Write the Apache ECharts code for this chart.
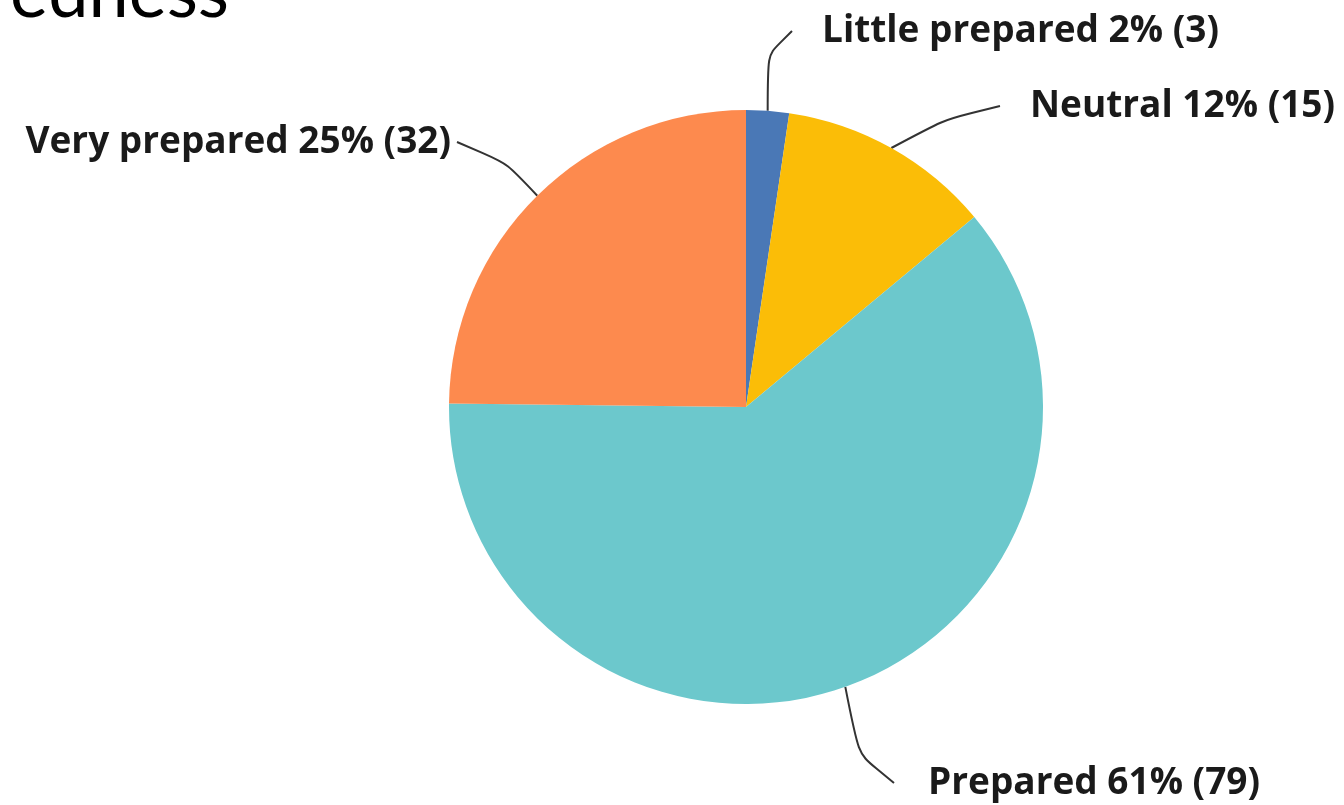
<!DOCTYPE html>
<html><head><meta charset="utf-8">
<script src="https://cdn.jsdelivr.net/npm/echarts@6/dist/echarts.min.js"></script>
<style>html,body{margin:0;padding:0;background:#fff}#c{width:1344px;height:805px}</style>
</head><body><div id="c"></div>
<script>
const categories = ['Little prepared', 'Neutral', 'Prepared', 'Very prepared'];
const counts = [3, 15, 79, 32];
const colors = ['#4a78b6', '#fbbd07', '#6cc8cc', '#fd8a4e'];
const titleText = 'Preparedness';
// label anchor placement: [x, y, align, gap between leader end and text]
const labelPos = [[822, 31, 'left', 30], [1030, 106, 'left', 30], [928, 783, 'left', 34], [451, 142, 'right', 6]];

const chart = echarts.init(document.getElementById('c'));
chart.setOption({
  animation: false,
  graphic: [{
    type: 'text', x: 229, y: 30,
    style: { text: titleText, font: '72px Lato', fill: '#000', textAlign: 'right', textVerticalAlign: 'bottom' }
  }],
  series: [{
    type: 'pie',
    center: [746, 407],
    radius: 297,
    startAngle: 90,
    clockwise: true,
    percentPrecision: 0,
    data: categories.map((c, i) => ({
      name: c, value: counts[i], itemStyle: { color: colors[i] },
      label: { padding: [0, labelPos[i][3]] }
    })),
    itemStyle: { borderWidth: 0 },
    label: {
      show: true,
      formatter: '{b} {d}% ({c})',
      fontFamily: 'Open Sans',
      fontWeight: 'bold',
      fontSize: 37,
      color: '#1a1a1a',
      overflow: 'none',
      width: 600,
      backgroundColor: 'rgba(255,255,255,0)'
    },
    labelLine: { show: true, smooth: 1, lineStyle: { color: '#333', width: 2 } },
    labelLayout: function (p) {
      const lp = labelPos[p.dataIndex];
      return { x: lp[2] === 'left' ? lp[0] - lp[3] : lp[0] + lp[3], y: lp[1], align: lp[2], verticalAlign: 'middle' };
    },
    emphasis: { disabled: true }
  }]
});
</script></body></html>
